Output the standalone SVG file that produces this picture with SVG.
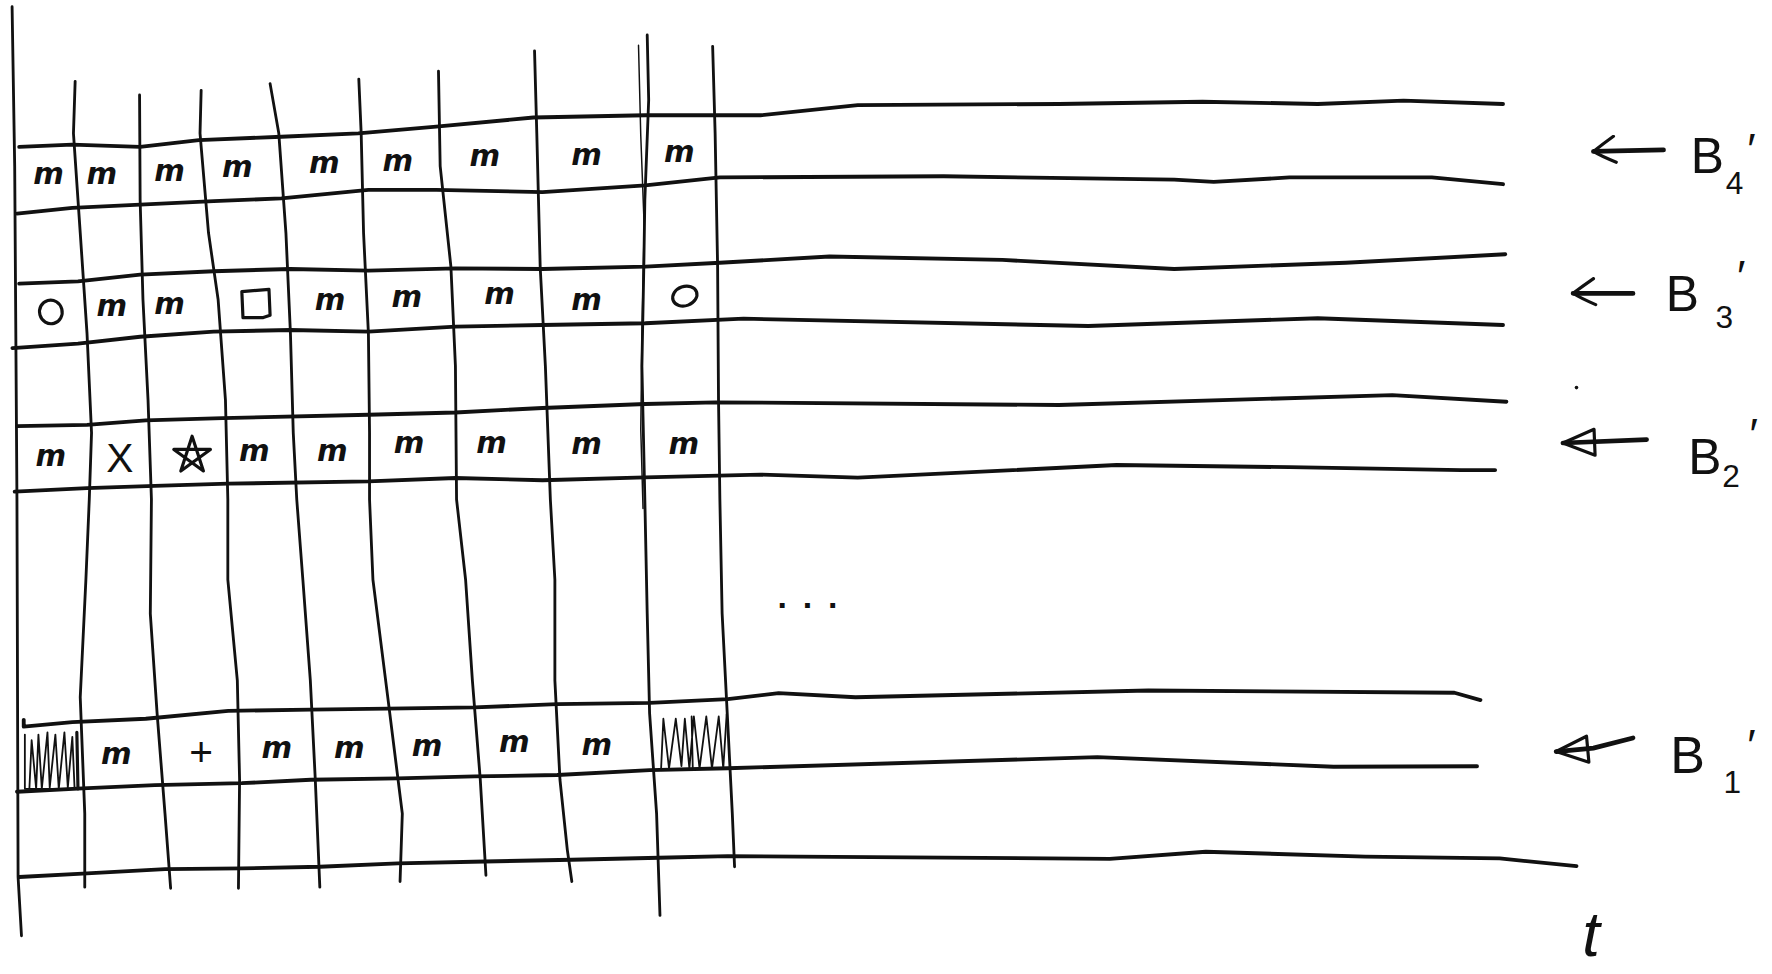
<svg xmlns="http://www.w3.org/2000/svg" width="1772" height="974" viewBox="0 0 1772 974">
<style>
.h{fill:none;stroke:#111;stroke-width:3.4;stroke-linejoin:round;stroke-linecap:round}
.v{fill:none;stroke:#111;stroke-width:2.5;stroke-linejoin:round;stroke-linecap:round}
.thin{fill:none;stroke:#111;stroke-width:1.3;stroke-linejoin:round;stroke-linecap:round}
.sym{fill:none;stroke:#111;stroke-width:2.8;stroke-linejoin:round;stroke-linecap:round}
.hat{fill:none;stroke:#111;stroke-width:1.6;stroke-linejoin:round;stroke-linecap:round}
.m{font-family:"DejaVu Sans",sans-serif;font-style:italic;font-weight:bold;font-size:26px;fill:#111;text-anchor:middle}
.ch{font-family:"Liberation Sans",sans-serif;font-size:36px;fill:#111;text-anchor:middle}
.lbl{font-family:"Liberation Sans","DejaVu Sans",sans-serif;fill:#111}
.arr{fill:none;stroke:#111;stroke-width:4.2;stroke-linecap:round}
</style>
<defs>
<marker id="hOpen" viewBox="-26 -14 30 28" refX="0" refY="0" markerWidth="30" markerHeight="28" markerUnits="userSpaceOnUse" orient="auto">
<path d="M-20,-10 Q-6,-4 0,0 Q-8,6 -18,13" fill="none" stroke="#111" stroke-width="2.8" stroke-linecap="round" stroke-linejoin="round"/>
</marker>
<marker id="hTri" viewBox="-32 -15 36 30" refX="0" refY="0" markerWidth="36" markerHeight="30" markerUnits="userSpaceOnUse" orient="auto">
<path d="M-28,-12 L0,0 L-28,11 Z" fill="none" stroke="#111" stroke-width="2.8" stroke-linejoin="round"/>
</marker>
</defs>
<rect width="1772" height="974" fill="#fff"/>
<g transform="scale(1.1301)">
<g id="rows">
<path class="h" d="M17,130 L64,128 L124,130 L176,124 L249,121 L317,118 L386,112 L472,104 L571,102 L673,102 L759,93 L937,92 L1064,90 L1166,92 L1242,89 L1330,92"/>
<path class="h" d="M15,189 L64,184 L124,181 L189,178 L249,175.5 L326,168 L386,168 L480,170 L571,164 L637,157 L835,156 L1039,159 L1074,161 L1141,157 L1267,157 L1330,163"/>
<path class="h" d="M17,251 L69,249 L124,243 L189,240 L257,238 L326,239.5 L403,237.5 L480,238 L571,236 L637,232.5 L734,227 L887,230 L1039,238 L1191,232.5 L1332,225"/>
<path class="h" d="M11,308 L69,304 L124,298 L189,293.5 L257,292 L326,293.5 L403,289 L480,287.6 L571,286 L658,282 L963,288.5 L1166,281.6 L1330,287.6"/>
<path class="h" d="M15,377 L77,376 L129,372 L197,370 L326,367 L403,365 L480,361 L571,357.5 L633,356 L937,358.4 L1232,349.6 L1333,355.5"/>
<path class="h" d="M13,435 L77,432 L137,430 L202,428 L326,426 L403,423 L480,425 L571,422.4 L673,420 L759,422.7 L988,411.5 L1141,413.4 L1293,416 L1323,416"/>
<path class="h" d="M21,637 L21,643 L64,639 L129,636 L202,629 L275,628 L343,627 L420,626 L493,623 L575,622 L644,618.6 L689,613.4 L757,617 L1016,611 L1287,613 L1310,619.5"/>
<path class="h" d="M15,700.6 L73,697.6 L137,694.8 L214,693 L275,690 L352,688.8 L420,687 L493,685.8 L575,681.4 L644,679.8 L971,670 L1180,678.5 L1307,678"/>
<path class="h" d="M17,776 L73,773 L146,769 L214,768.4 L283,767 L352,764 L429,762.3 L506,760.8 L583,759 L644,757.5 L982,760 L1067,753.7 L1208,758 L1327,759.6 L1395,766.4"/>
</g>
<g id="columns">
<path class="v" d="M10.7,6 L13,147 L15,442 L16,776 L19,828"/>
<path class="v" d="M66.5,72 L65,118 L71,206 L77,295 L81,383 L79,442 L76,513 L71,617 L75,720 L75,785"/>
<path class="v" d="M123.5,84 L124,177 L126.5,265 L131,354 L134,442 L133,543 L139,631 L146,720 L151,786"/>
<path class="v" d="M178,80 L177,118 L184.5,206 L193,265 L199.5,354 L201.6,442 L201.6,513 L210,602 L212,690 L211,786"/>
<path class="v" d="M239,74 L246.7,118 L253,206 L257,295 L259.5,383 L262.6,442 L268,513 L274.6,602 L279,690 L283,785"/>
<path class="v" d="M317.5,70 L319.6,118 L321.7,206 L326,295 L327,383 L327,442 L330,513 L343,616 L356,720 L354,780"/>
<path class="v" d="M388,63 L389.5,147 L399,236 L403,324 L404,442 L412,513 L418,602 L425,690 L430,774.5"/>
<path class="v" d="M473,45 L475,118 L478,236 L482.6,324 L487,442 L491,513 L491,602 L495.5,690 L502,752 L506,780"/>
<path class="v" d="M572.7,31 L574,88.5 L570.6,177 L569.7,236 L568,324 L570.6,442 L572.7,543 L574.8,631 L581,720 L584,810"/>
<path class="thin" d="M565,40 L567,120 L570,200 L568,300 L567,380 L569,450"/>
<path class="v" d="M630.6,41 L632.8,118 L635,236 L635.8,354 L637,442 L639,543 L643.5,631 L648,720 L650,767"/>
</g>
<g id="row-b4-cells">
<text class="m" x="43" y="163">m</text>
<text class="m" x="90" y="163">m</text>
<text class="m" x="150" y="160">m</text>
<text class="m" x="210" y="157">m</text>
<text class="m" x="287" y="153">m</text>
<text class="m" x="352" y="151">m</text>
<text class="m" x="429" y="147">m</text>
<text class="m" x="519" y="146">m</text>
<text class="m" x="601" y="143">m</text>
</g>
<g id="row-b3-cells">
<ellipse class="sym" cx="45" cy="276" rx="10" ry="10.5" transform="rotate(-15 45 276)"/>
<text class="m" x="99" y="280">m</text>
<text class="m" x="150" y="278">m</text>
<path class="sym" d="M214,258 L238,256 L239,279 L233,281 L215,281 Z"/>
<text class="m" x="292" y="274">m</text>
<text class="m" x="360" y="272">m</text>
<text class="m" x="442" y="269">m</text>
<text class="m" x="519" y="274">m</text>
<ellipse class="sym" cx="606" cy="262" rx="11" ry="8.5" transform="rotate(-20 606 262)"/>
</g>
<g id="row-b2-cells">
<text class="m" x="45" y="412">m</text>
<text class="ch" x="106" y="418">X</text>
<path class="sym" d="M170,386 L180,416.8 L153.8,397.7 L186.2,397.7 L160,416.8 Z"/>
<text class="m" x="225" y="408">m</text>
<text class="m" x="294" y="408">m</text>
<text class="m" x="362" y="401">m</text>
<text class="m" x="435" y="401">m</text>
<text class="m" x="519" y="402">m</text>
<text class="m" x="605" y="402">m</text>
</g>
<g id="row-b1-cells">
<path class="hat" d="M22,650 L22,698 L71,698 M26,698 L28,655 L32,698 L34,650 L37,698 L42,648 L44,697 L49,650 L52,698 L57,648 L60,697 L64,652 L66,698"/>
<path class="sym" d="M68,648 L69,698"/>
<text class="m" x="103" y="676">m</text>
<text class="ch" x="178" y="678">+</text>
<text class="m" x="245" y="671">m</text>
<text class="m" x="309" y="671">m</text>
<text class="m" x="378" y="669">m</text>
<text class="m" x="455" y="665">m</text>
<text class="m" x="528" y="668">m</text>
<path class="hat" d="M585,680 L587,636 L592,680 L598,636 L603,678 L606,636 L610,680 L614,634 L619,680 L625,634 L630,680 L636,634 L640,680 L643,632 M612,634 L613,679"/>
</g>
<g id="ellipsis">
<text class="lbl" x="688" y="538" font-size="30" font-weight="bold" letter-spacing="14">...</text>
</g>
<g id="connectors">
<path class="arr" d="M1472,132.7 L1410,134" marker-end="url(#hOpen)"/>
<path class="arr" d="M1445,259.6 L1392,259.5" marker-end="url(#hOpen)"/>
<path class="arr" d="M1457,389 L1383,392" marker-end="url(#hTri)"/>
<path class="arr" d="M1445,653 L1410,662 L1377,665" marker-end="url(#hTri)"/>
</g>
<g id="label-b4">
<text class="lbl"><tspan x="1496" y="153" font-size="44">B</tspan><tspan x="1527" y="172" font-size="28">4</tspan><tspan x="1546" y="146" font-size="40">′</tspan></text>
</g>
<g id="label-b3">
<text class="lbl"><tspan x="1474" y="275" font-size="44">B</tspan><tspan x="1518" y="290" font-size="28">3</tspan><tspan x="1537" y="258" font-size="40">′</tspan></text>
</g>
<g id="label-b2">
<text class="lbl"><tspan x="1494" y="419" font-size="44">B</tspan><tspan x="1524" y="431" font-size="28">2</tspan><tspan x="1548" y="398" font-size="40">′</tspan></text>
</g>
<g id="label-b1">
<text class="lbl"><tspan x="1478" y="684" font-size="46">B</tspan><tspan x="1525" y="702" font-size="28">1</tspan><tspan x="1546" y="673" font-size="40">′</tspan></text>
</g>
<g id="label-t">
<text class="lbl" x="1400" y="846" font-size="56" font-style="italic">t</text>
</g>
<circle cx="1395" cy="343" r="1.6" fill="#111"/>
</g>
</svg>
